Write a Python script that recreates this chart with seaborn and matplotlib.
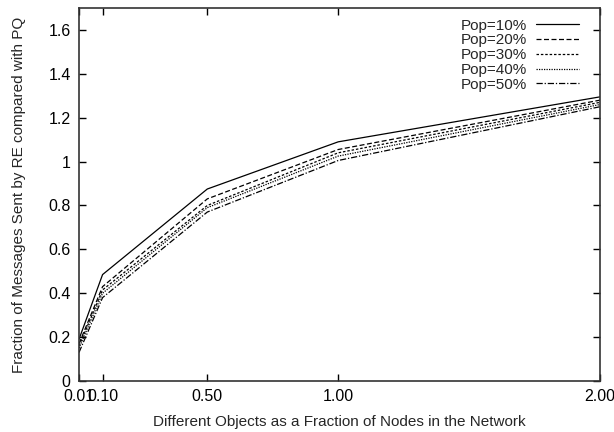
import matplotlib
matplotlib.use("Agg")
import matplotlib.pyplot as plt
import seaborn as sns
import pandas as pd
from matplotlib.lines import Line2D

x_vals = [0.01, 0.10, 0.50, 1.00, 2.00]
pop_labels = ["Pop=10%", "Pop=20%", "Pop=30%", "Pop=40%", "Pop=50%"]
pop10 = [0.19, 0.485, 0.875, 1.09, 1.295]
pop20 = [0.17, 0.43, 0.83, 1.055, 1.28]
pop30 = [0.16, 0.415, 0.80, 1.04, 1.27]
pop40 = [0.15, 0.40, 0.79, 1.025, 1.26]
pop50 = [0.13, 0.38, 0.77, 1.005, 1.25]
xtick_labels = ["0.01", "0.10", "0.50", "1.00", "2.00"]
ytick_vals = [0, 0.2, 0.4, 0.6, 0.8, 1, 1.2, 1.4, 1.6]
ytick_labels = ["0", "0.2", "0.4", "0.6", "0.8", "1", "1.2", "1.4", "1.6"]

rows = []
for lab, ys in zip(pop_labels, [pop10, pop20, pop30, pop40, pop50]):
    for xv, yv in zip(x_vals, ys):
        rows.append({"x": xv, "y": yv, "Pop": lab})
df = pd.DataFrame(rows)

sns.set_style("ticks")
plt.rcParams["font.family"] = ["Liberation Sans", "DejaVu Sans"]

fig = plt.figure(figsize=(6.14, 4.32), dpi=100)
ax = fig.add_axes([79/614, 51/432, 521/614, 373/432])

dashes = {
    "Pop=10%": "",
    "Pop=20%": (4, 2),
    "Pop=30%": (2, 1.5),
    "Pop=40%": (1, 1),
    "Pop=50%": (5, 1.5, 1, 1.5),
}
sns.lineplot(data=df, x="x", y="y", style="Pop", dashes=dashes, color="black",
             linewidth=0.9, ax=ax, legend=False, markers=False)

ax.set_xlim(0.01, 2.0)
ax.set_ylim(0, 1.7)
ax.set_xticks(x_vals)
ax.set_xticklabels(xtick_labels)
ax.set_yticks(ytick_vals)
ax.set_yticklabels(ytick_labels)
ax.tick_params(direction="in", top=True, right=True, length=5, labelsize=11.5,
               width=1, colors="black", pad=6)
for s in ax.spines.values():
    s.set_color("#333333")
    s.set_linewidth(1.2)
ax.set_xlabel("Different Objects as a Fraction of Nodes in the Network", fontsize=11, labelpad=8)
ax.set_ylabel("Fraction of Messages Sent by RE compared with PQ", fontsize=11, labelpad=16)

handles = []
for lab in pop_labels:
    d = dashes[lab]
    ln = Line2D([], [], color="black", linewidth=0.9)
    if d:
        ln.set_dashes(d)
    handles.append(ln)
ax.legend(handles, pop_labels, loc="upper right", frameon=False, markerfirst=False,
          fontsize=11, handlelength=2.8, labelspacing=0.05, borderaxespad=0.3,
          bbox_to_anchor=(0.98, 1.0), handletextpad=0.6)

fig.savefig("out.png", dpi=100)
